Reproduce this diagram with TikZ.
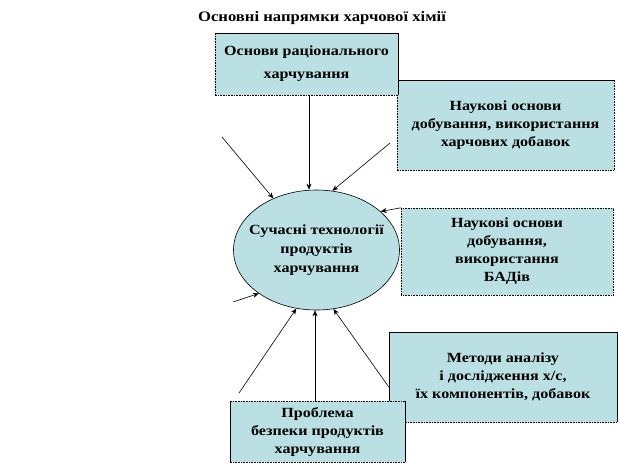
\documentclass[tikz,border=0pt]{standalone}
\usepackage{fontspec}
\setmainfont{Liberation Serif}
\newfontfamily\widefont{Liberation Serif}[FakeStretch=1.15]
\usetikzlibrary{arrows.meta,calc,shapes.geometric}
\definecolor{boxfill}{RGB}{187,224,227}
\begin{document}
\begin{tikzpicture}[x=1pt,y=-1pt,
  txt/.style={align=center, font=\widefont\bfseries\fontsize{14}{18}\selectfont},
  box/.style={txt, rectangle, fill=boxfill, inner sep=0pt},
  edge/.style={line width=0.6pt},
  dotedge/.style={line width=0.6pt, densely dotted},
  arr/.style={-{Stealth[length=6pt,width=5pt]}, line width=0.6pt}]
\useasboundingbox (0,0) rectangle (618,466);
% title
\node[txt, font=\widefont\bfseries\fontsize{14.5}{18}\selectfont] (title) at (322,18) {Основні напрямки харчової хімії};
% box 2
\node[box, minimum width=217pt, minimum height=90pt] (b2) at (505.5,125) {Наукові основи\\добування, використання\\харчових добавок};
\draw[edge] (b2.north west) -- (b2.north east);
\draw[dotedge] (b2.north east) -- (b2.south east) -- (b2.south west) -- (b2.north west);
% box 1
\node[box, minimum width=183pt, minimum height=62pt] (b1) at (306.5,64) {Основи раціонального\\[5pt]харчування};
\draw[edge] (b1.north west) -- (b1.north east) -- (b1.south east);
\draw[dotedge] (b1.north west) -- (b1.south west) -- (b1.south east);
% box 3
\node[box, minimum width=212pt, minimum height=87pt] (b3) at (507,251.5) {Наукові основи\\добування,\\використання\\БАДів};
\draw[dotedge] (b3.north west) rectangle (b3.south east);
% box 4
\node[box, minimum width=228pt, minimum height=90pt] (b4) at (503,377) {Методи аналізу\\і дослідження х/с,\\їх компонентів, добавок};
\draw[edge] (b4.south west) -- (b4.north west) -- (b4.north east) -- (b4.south east);
\draw[dotedge] (b4.south west) -- (b4.south east);
% box 5
\node[box, minimum width=175pt, minimum height=61pt] (b5) at (317.5,431.5) {Проблема\\безпеки продуктів\\харчування};
\draw[dotedge] (b5.north west) -- (b5.north east);
\draw[edge] (b5.north west) -- (b5.south west);
\draw[edge] (b5.north east) -- (b5.south east);
\draw[dotedge] (b5.south west) -- (b5.south east);
% ellipse
\node[ellipse, fill=boxfill, draw, line width=0.6pt, inner sep=0pt, minimum width=166pt, minimum height=120pt] (el) at (316.5,250) {};
\node[txt, font=\widefont\bfseries\fontsize{14}{19}\selectfont] (eltext) at (el.center) {Сучасні технології\\продуктів\\харчування};
% free ends
\coordinate (f2) at (222,137);
\coordinate (f3) at (390,143);
\coordinate (f5) at (233,302);
\coordinate (f6) at (239,393);
% arrows
\draw[arr] ([xshift=2.5pt]b1.south) -- ([xshift=2.5pt]b1.south |- el.north);
\draw[arr] (f2) -- (el);
\draw[arr] (f3) -- (el.75);
\draw[arr] (b3.north west) -- (el.31);
\draw[arr] (f5) -- (el.217);
\draw[arr] (f6) -- (el.251);
\draw[arr] ([xshift=-2.5pt]b5.north) -- ([xshift=-2.5pt]b5.north |- el.south);
\draw[arr] ($(b4.west)+(0,10)$) -- (el.286);
\end{tikzpicture}
\end{document}
